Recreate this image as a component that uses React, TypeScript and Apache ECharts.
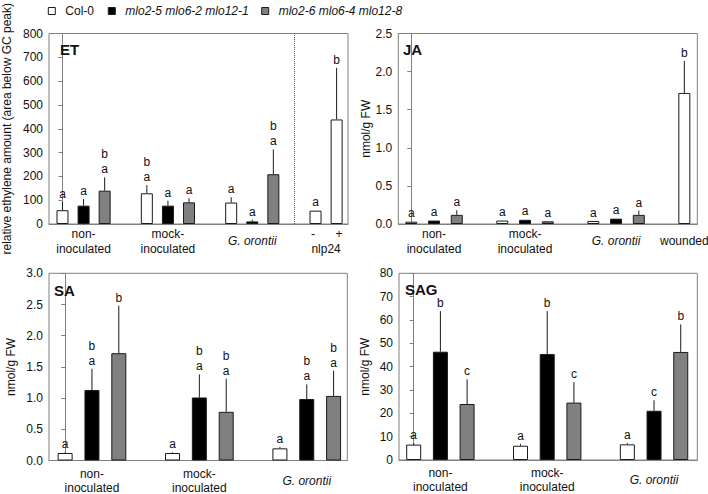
import React, { useEffect, useRef } from 'react';
import * as echarts from 'echarts';

const FONT = "'Liberation Sans', Arial, Helvetica, sans-serif";
const TXT = '#111';
const AXC = '#808080';

const genotypes = ['Col-0', 'mlo2-5 mlo6-2 mlo12-1', 'mlo2-6 mlo6-4 mlo12-8'];
const treatments = ['non-\ninoculated', 'mock-\ninoculated', 'G. orontii'];

// ET (relative ethylene amount)
const etCol0 = [58, 129, 90];
const etCol0Err = [94, 163, 112];
const etCol0Let = ['a', 'b\na', 'a'];
const etMloA = [77, 77, 11];
const etMloAErr = [105, 98, 18];
const etMloALet = ['a', 'a', 'a'];
const etMloB = [140, 91, 209];
const etMloBErr = [196, 108, 313];
const etMloBLet = ['b\na', 'a', 'b\na'];
const nlp24Ticks = ['-', '+'];
const etNlp = [56, 439];
const etNlpErr = [58, 656];
const etNlpLet = ['a', 'b'];

// JA (nmol/g FW)
const jaCol0 = [0.03, 0.045, 0.04];
const jaCol0Err = [0.035, 0.05, 0.045];
const jaCol0Let = ['a', 'a', 'a'];
const jaMloA = [0.045, 0.055, 0.07];
const jaMloAErr = [0.05, 0.06, 0.075];
const jaMloALet = ['a', 'a', 'a'];
const jaMloB = [0.12, 0.035, 0.12];
const jaMloBErr = [0.18, 0.04, 0.175];
const jaMloBLet = ['a', 'a', 'a'];
const jaWounded = [1.72];
const jaWoundedErr = [2.14];
const jaWoundedLet = ['b'];

// SA (nmol/g FW)
const saCol0 = [0.12, 0.12, 0.195];
const saCol0Err = [0.13, 0.13, 0.22];
const saCol0Let = ['a', 'a', 'a'];
const saMloA = [1.13, 1.01, 0.985];
const saMloAErr = [1.47, 1.38, 1.22];
const saMloALet = ['b\na', 'b\na', 'b\na'];
const saMloB = [1.72, 0.78, 1.035];
const saMloBErr = [2.48, 1.31, 1.44];
const saMloBLet = ['b', 'b\na', 'b\na'];

// SAG (nmol/g FW)
const sagCol0 = [6.6, 6.1, 6.7];
const sagCol0Err = [7.3, 6.9, 7.3];
const sagCol0Let = ['a', 'a', 'a'];
const sagMloA = [46.4, 45.4, 21.1];
const sagMloAErr = [63.8, 63.8, 25.6];
const sagMloALet = ['b', 'b', 'c'];
const sagMloB = [24.0, 24.6, 46.3];
const sagMloBErr = [34.6, 33.4, 58.1];
const sagMloBLet = ['c', 'c', 'b'];

const barColors = ['#ffffff', '#000000', '#808080'];

type Panel = {
  title: string;
  titlePos: [number, number];
  grid: { left: number; top: number; width: number; height: number };
  xMin: number;
  xMax: number;
  yMax: number;
  yInterval: number;
  decimals: number;
  yName: string;
  nameGap: number;
  labelMargin: number;
  lineH: number;
  barWidth: number;
  vals: number[][];
  errs: number[][];
  lets: string[][];
  extraX: number[];
  extraLabels: { x: number; text: string }[];
  extra: number[];
  extraErr: number[];
  extraLet: string[];
  divider?: number;
};

const panels: Panel[] = [
  {
    title: 'ET', titlePos: [60, 42],
    grid: { left: 49, top: 33.5, width: 299, height: 190.5 },
    xMin: -0.64, xMax: 13.54, yMax: 800, yInterval: 100, decimals: 0,
    yName: 'relative ethylene amount (area below GC peak)', nameGap: 36,
    labelMargin: 2, lineH: 15, barWidth: 12,
    vals: [etCol0, etMloA, etMloB], errs: [etCol0Err, etMloAErr, etMloBErr],
    lets: [etCol0Let, etMloALet, etMloBLet],
    extraX: [12, 13],
    extraLabels: [{ x: 12.5, text: `{s|${nlp24Ticks[0]}}{s|${nlp24Ticks[1]}}\nnlp24` }],
    extra: etNlp, extraErr: etNlpErr, extraLet: etNlpLet, divider: 11,
  },
  {
    title: 'JA', titlePos: [403, 42],
    grid: { left: 398.3, top: 33.5, width: 299, height: 190.5 },
    xMin: -0.57, xMax: 12.57, yMax: 2.5, yInterval: 0.5, decimals: 1,
    yName: 'nmol/g FW', nameGap: 22,
    labelMargin: 2, lineH: 15, barWidth: 12,
    vals: [jaCol0, jaMloA, jaMloB], errs: [jaCol0Err, jaMloAErr, jaMloBErr],
    lets: [jaCol0Let, jaMloALet, jaMloBLet],
    extraX: [12],
    extraLabels: [{ x: 12, text: '{w|wounded}' }],
    extra: jaWounded, extraErr: jaWoundedErr, extraLet: jaWoundedLet,
  },
  {
    title: 'SA', titlePos: [54, 283],
    grid: { left: 49, top: 273.3, width: 298.3, height: 187.2 },
    xMin: -0.6, xMax: 10.51, yMax: 3, yInterval: 0.5, decimals: 1,
    yName: 'nmol/g FW', nameGap: 32,
    labelMargin: 6, lineH: 14, barWidth: 15,
    vals: [saCol0, saMloA, saMloB], errs: [saCol0Err, saMloAErr, saMloBErr],
    lets: [saCol0Let, saMloALet, saMloBLet],
    extraX: [], extraLabels: [], extra: [], extraErr: [], extraLet: [],
  },
  {
    title: 'SAG', titlePos: [405, 282],
    grid: { left: 399, top: 273.3, width: 298.3, height: 186.7 },
    xMin: -0.55, xMax: 10.62, yMax: 80, yInterval: 10, decimals: 0,
    yName: 'nmol/g FW', nameGap: 28,
    labelMargin: 6, lineH: 14, barWidth: 15,
    vals: [sagCol0, sagMloA, sagMloB], errs: [sagCol0Err, sagMloAErr, sagMloBErr],
    lets: [sagCol0Let, sagMloALet, sagMloBLet],
    extraX: [], extraLabels: [], extra: [], extraErr: [], extraLet: [],
  },
];

function buildOption() {
  const grid: any[] = [];
  const xAxis: any[] = [];
  const yAxis: any[] = [];
  const series: any[] = [];
  const title: any[] = [];

  panels.forEach((p, i) => {
    grid.push({ ...p.grid, show: true, borderColor: AXC, borderWidth: 1, backgroundColor: 'transparent', containLabel: false, outerBoundsMode: 'none' });
    title.push({ text: p.title, left: p.titlePos[0], top: p.titlePos[1], padding: 0, textStyle: { fontSize: 15, fontWeight: 'bold', fontFamily: FONT, color: TXT } });

    const labelMap: Record<string, string> = {};
    treatments.forEach((t, g) => {
      labelMap[String(4 * g + 1)] = t === 'G. orontii' ? '{g|G. orontii}' : t;
    });
    p.extraLabels.forEach((l) => { labelMap[String(l.x)] = l.text; });
    const customValues = Object.keys(labelMap).map(Number).sort((a, b) => a - b);

    xAxis.push({
      type: 'value', gridIndex: i, min: p.xMin, max: p.xMax,
      axisLine: { show: true, lineStyle: { color: AXC, width: 1 } },
      axisTick: { show: false },
      splitLine: { show: false },
      axisLabel: {
        customValues,
        hideOverlap: false,
        formatter: (v: number) => labelMap[String(v)] ?? '',
        margin: p.labelMargin, fontSize: 12, fontFamily: FONT, color: TXT, lineHeight: p.lineH,
        rich: {
          g: { fontStyle: 'italic', fontSize: 12, fontFamily: FONT, color: TXT, lineHeight: p.lineH * 2 },
          w: { fontSize: 12, fontFamily: FONT, color: TXT, lineHeight: p.lineH * 2 },
          s: { fontSize: 12, fontFamily: FONT, color: TXT, width: 26, align: 'center', lineHeight: p.lineH },
        },
      },
    });
    yAxis.push({
      type: 'value', gridIndex: i, min: 0, max: p.yMax, interval: p.yInterval,
      axisLine: { show: true, lineStyle: { color: AXC, width: 1 } },
      axisTick: { show: true, inside: false, length: 4, lineStyle: { color: AXC } },
      splitLine: { show: false },
      axisLabel: { margin: 6, fontSize: 12, fontFamily: FONT, color: TXT, formatter: (v: number) => v.toFixed(p.decimals) },
      name: p.yName, nameLocation: 'middle', nameGap: p.nameGap,
      nameTextStyle: { fontSize: 12, fontFamily: FONT, color: TXT },
    });

    const errRows: number[][] = [];
    const errLets: string[] = [];
    genotypes.forEach((gname, k) => {
      const data: number[][] = p.vals[k].map((v, g) => [4 * g + k, v]);
      p.vals[k].forEach((v, g) => { errRows.push([4 * g + k, v, p.errs[k][g]]); errLets.push(p.lets[k][g]); });
      if (k === 0) {
        p.extra.forEach((v, j) => {
          data.push([p.extraX[j], v]);
          errRows.push([p.extraX[j], v, p.extraErr[j]]);
          errLets.push(p.extraLet[j]);
        });
      }
      const s: any = {
        type: 'bar', name: gname, xAxisIndex: i, yAxisIndex: i, data,
        barWidth: p.barWidth, barGap: '-100%',
        itemStyle: { color: barColors[k], borderColor: '#1a1a1a', borderWidth: 1 },
        emphasis: { disabled: true }, silent: true,
      };
      if (k === 0 && p.divider !== undefined) {
        s.markLine = {
          silent: true, symbol: ['none', 'none'], label: { show: false },
          lineStyle: { type: 'dotted', color: '#555', width: 1 },
          emphasis: { disabled: true },
          data: [{ xAxis: p.divider }],
        };
      }
      series.push(s);
    });

    series.push({
      type: 'custom', xAxisIndex: i, yAxisIndex: i, z: 5, silent: true,
      itemStyle: { color: TXT },
      data: errRows,
      renderItem: (params: any, api: any) => {
        const x = api.value(0), v = api.value(1), e = api.value(2);
        const pTop = api.coord([x, v]);
        const pErr = api.coord([x, e]);
        const children: any[] = [];
        if (pTop[1] - pErr[1] > 0.5) {
          children.push({ type: 'line', shape: { x1: pTop[0], y1: pTop[1], x2: pErr[0], y2: pErr[1] }, style: { stroke: '#1a1a1a', lineWidth: 1 } });
        }
        const lines = errLets[params.dataIndex].split('\n');
        lines.forEach((t, j) => {
          children.push({
            type: 'text', x: pErr[0], y: pErr[1] - 8 - (lines.length - 1 - j) * 15,
            style: { text: t, fill: TXT, fontSize: 12, fontFamily: FONT, align: 'center', verticalAlign: 'middle' },
          });
        });
        return { type: 'group', children };
      },
    });
  });

  const legendLefts = [47.8, 107.8, 261.2];
  const legend = genotypes.map((g, k) => ({
    data: [{ name: g, icon: 'path://M0 0H10V10H0Z', itemStyle: { color: barColors[k], borderColor: '#1a1a1a', borderWidth: 1 } }],
    left: legendLefts[k], top: 5, padding: 0, itemWidth: 17, itemHeight: 7, selectedMode: false,
    textStyle: { fontSize: 12, fontFamily: FONT, color: TXT, rich: { i: { fontStyle: 'italic', fontSize: 12, fontFamily: FONT, color: TXT } } },
    formatter: (name: string) => (name.startsWith('mlo') ? `{i|${name}}` : name),
  }));

  return { animation: false, backgroundColor: '#fff', title, grid, xAxis, yAxis, series, legend };
}

export default function App() {
  const ref = useRef<HTMLDivElement>(null);
  useEffect(() => {
    if (!ref.current) return;
    const chart = echarts.init(ref.current, undefined, { renderer: 'svg' });
    chart.setOption(buildOption() as any);
    return () => chart.dispose();
  }, []);
  return <div ref={ref} style={{ position: 'absolute', left: 0, top: 0, width: 708, height: 494 }} />;
}
